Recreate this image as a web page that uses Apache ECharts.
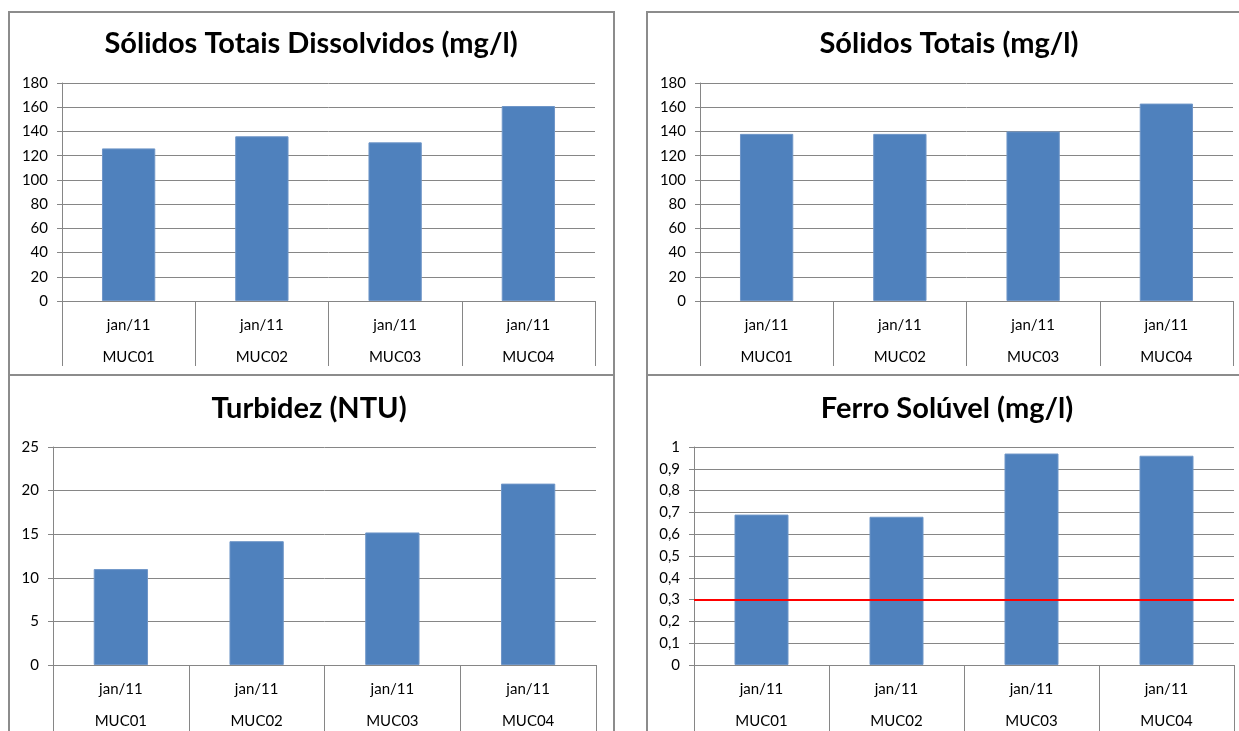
<!DOCTYPE html>
<html>
<head>
<meta charset="utf-8">
<title>Qualidade da água – MUC01 a MUC04</title>
<script src="https://cdn.jsdelivr.net/npm/echarts@6/dist/echarts.min.js"></script>
<style>
  html, body { margin: 0; padding: 0; background: #ffffff; }
  #chart { width: 1239px; height: 731px; }
</style>
</head>
<body>
<div id="chart"></div>
<script>
// Pontos de coleta e período da campanha
const sites = ['MUC01', 'MUC02', 'MUC03', 'MUC04'];
const period = 'jan/11';

// Resultados por parâmetro
const dissolvedSolids = [126, 136, 131, 161];   // Sólidos Totais Dissolvidos (mg/l)
const totalSolids = [138, 138, 140, 163];       // Sólidos Totais (mg/l)
const turbidity = [11.0, 14.2, 15.2, 20.8];     // Turbidez (NTU)
const solubleIron = [0.69, 0.68, 0.97, 0.96];   // Ferro Solúvel (mg/l)
const ironLimit = 0.3;                          // limite de referência

// Escalas dos eixos de valores: [máximo, intervalo]
const solidsScale = [180, 20];
const turbidityScale = [25, 5];
const ironScale = [1, 0.1];

const titles = [
  'Sólidos Totais Dissolvidos (mg/l)',
  'Sólidos Totais (mg/l)',
  'Turbidez (NTU)',
  'Ferro Solúvel (mg/l)'
];

const FONT = 'Lato, "Open Sans", sans-serif';
const GRID_COLOR = '#868686';
const BAR_COLOR = '#4F81BD';

// Áreas de plotagem dos quatro painéis
const grids = [
  { left: 62,  top: 83,  width: 533, height: 218 },
  { left: 700, top: 83,  width: 533, height: 218 },
  { left: 53,  top: 447, width: 543, height: 218 },
  { left: 694, top: 447, width: 540, height: 218 }
];
const titleCenters = [[311, 44], [949, 44], [309, 409], [947, 409]];
const scales = [solidsScale, solidsScale, turbidityScale, ironScale];
const seriesData = [dissolvedSolids, totalSolids, turbidity, solubleIron];

function decimalComma(v) {
  if (Math.abs(v - Math.round(v)) < 1e-9) return String(Math.round(v));
  return v.toFixed(1).replace('.', ',');
}

const option = {
  backgroundColor: '#ffffff',
  animation: false,
  textStyle: { fontFamily: FONT },
  title: titles.map((t, i) => ({
    text: t,
    left: titleCenters[i][0],
    top: titleCenters[i][1] - 17,
    textAlign: 'center',
    padding: 0,
    textStyle: { fontFamily: FONT, fontSize: 29, fontWeight: 'bold', color: '#000', lineHeight: 34 }
  })),
  grid: grids.map(g => Object.assign({ containLabel: false }, g)),
  xAxis: grids.map((g, i) => ({
    type: 'category',
    gridIndex: i,
    data: sites,
    boundaryGap: true,
    axisLine: { show: true, lineStyle: { color: GRID_COLOR, width: 1 } },
    axisTick: {
      show: true,
      interval: 0,
      alignWithLabel: false,
      length: i < 2 ? 65 : 70,
      lineStyle: { color: GRID_COLOR, width: 1 }
    },
    axisLabel: {
      interval: 0,
      margin: 8,
      color: '#000',
      formatter: v => '{p|' + period + '}\n{s|' + v + '}',
      rich: {
        p: { fontFamily: FONT, fontSize: 15, lineHeight: 32, color: '#000' },
        s: { fontFamily: FONT, fontSize: 15, lineHeight: 32, color: '#000' }
      }
    },
    splitLine: { show: false }
  })),
  yAxis: grids.map((g, i) => ({
    type: 'value',
    gridIndex: i,
    min: 0,
    max: scales[i][0],
    interval: scales[i][1],
    axisLine: { show: true, lineStyle: { color: GRID_COLOR, width: 1 } },
    axisTick: { show: true, inside: false, length: 5, lineStyle: { color: GRID_COLOR } },
    axisLabel: {
      margin: 14,
      color: '#000',
      fontFamily: FONT,
      fontSize: 15,
      formatter: i === 3 ? decimalComma : v => String(v)
    },
    splitLine: { show: true, lineStyle: { color: GRID_COLOR, width: 1 } }
  })),
  series: seriesData.map((d, i) => {
    const s = {
      type: 'bar',
      xAxisIndex: i,
      yAxisIndex: i,
      data: d,
      barWidth: '40%',
      itemStyle: { color: BAR_COLOR, borderColor: '#6f96c8', borderWidth: 1 },
      emphasis: { disabled: true }
    };
    if (i === 3) {
      s.markLine = {
        silent: true,
        symbol: 'none',
        label: { show: false },
        lineStyle: { color: '#ff0000', width: 2, type: 'solid' },
        data: [{ yAxis: ironLimit }]
      };
    }
    return s;
  }),
  // Molduras dos quatro painéis
  graphic: [
    { type: 'rect', shape: { x: 9,   y: 12,  width: 605, height: 363 } },
    { type: 'rect', shape: { x: 647, y: 12,  width: 620, height: 363 } },
    { type: 'rect', shape: { x: 9,   y: 375, width: 605, height: 400 } },
    { type: 'rect', shape: { x: 647, y: 375, width: 620, height: 400 } }
  ].map(r => Object.assign(r, {
    silent: true,
    z: -1,
    style: { fill: 'none', stroke: '#8c8c8c', lineWidth: 2 }
  }))
};

const chart = echarts.init(document.getElementById('chart'), null, { renderer: 'canvas' });
chart.setOption(option);
</script>
</body>
</html>
